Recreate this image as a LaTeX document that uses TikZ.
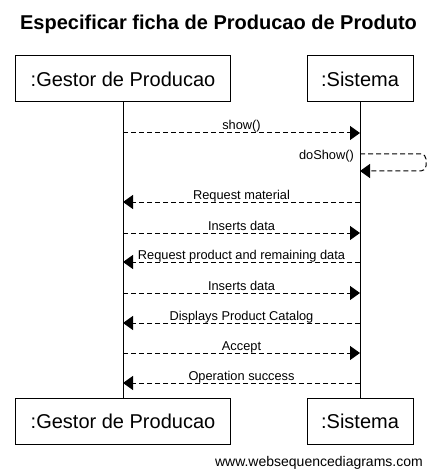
\documentclass[tikz,border=0pt]{standalone}
\usepackage{fontspec}
\setmainfont{Liberation Sans}
\usetikzlibrary{arrows.meta}
\begin{document}
\begin{tikzpicture}[x=1pt,y=-1pt,
  actor/.style={draw, line width=1pt, minimum height=46pt, inner sep=0pt, font=\fontsize{20}{24}\selectfont},
  msg/.style={line width=1pt, dash pattern=on 5pt off 3pt, -{Triangle[length=10pt,width=14pt]}},
  lbl/.style={font=\fontsize{12.8}{15}\selectfont, anchor=base, inner sep=0pt, yshift=3pt},
  life/.style={line width=1pt}
]
\useasboundingbox (0,0) rectangle (437,470);
\node[font=\bfseries\fontsize{20}{24}\selectfont, anchor=base, inner sep=0pt] (title) at (218.5,29.5) {Especificar ficha de Producao de Produto};

\node[actor, minimum width=215pt] (gt) at (123,79) {:Gestor de Producao};
\node[actor, minimum width=106pt] (st) at (360,79) {:Sistema};
\node[actor, minimum width=215pt] (gb) at (123,421) {:Gestor de Producao};
\node[actor, minimum width=106pt] (sb) at (360,421) {:Sistema};

\draw[life] (gt.south) -- (gb.north);
\draw[life] (st.south) -- (sb.north);

\coordinate (g1) at (123,133); \coordinate (s1) at (360,133);
\coordinate (s2) at (360,154); \coordinate (s3) at (360,171);
\coordinate (c1) at (426,154); \coordinate (c2) at (426,171);
\coordinate (g4) at (123,202); \coordinate (s4) at (360,202);
\coordinate (g5) at (123,233); \coordinate (s5) at (360,233);
\coordinate (g6) at (123,262); \coordinate (s6) at (360,262);
\coordinate (g7) at (123,293); \coordinate (s7) at (360,293);
\coordinate (g8) at (123,323); \coordinate (s8) at (360,323);
\coordinate (g9) at (123,353); \coordinate (s9) at (360,353);
\coordinate (g10) at (123,383); \coordinate (s10) at (360,383);

\draw[msg] (g1) -- node[lbl]{show()} (s1);
\draw[msg, rounded corners=5pt] (s2) -- (c1) -- (c2) -- (s3);
\node[font=\fontsize{12.8}{15}\selectfont, anchor=base east, inner sep=0pt] (ds) at (354,159.5) {doShow()};
\draw[msg] (s4) -- node[lbl]{Request material} (g4);
\draw[msg] (g5) -- node[lbl]{Inserts data} (s5);
\draw[msg] (s6) -- node[lbl]{Request product and remaining data} (g6);
\draw[msg] (g7) -- node[lbl]{Inserts data} (s7);
\draw[msg] (s8) -- node[lbl]{Displays Product Catalog} (g8);
\draw[msg] (g9) -- node[lbl]{Accept} (s9);
\draw[msg] (s10) -- node[lbl]{Operation success} (g10);

\node[font=\fontsize{14}{16}\selectfont, anchor=base east, inner sep=0pt] (foot) at (423,466) {www.websequencediagrams.com};
\end{tikzpicture}
\end{document}
